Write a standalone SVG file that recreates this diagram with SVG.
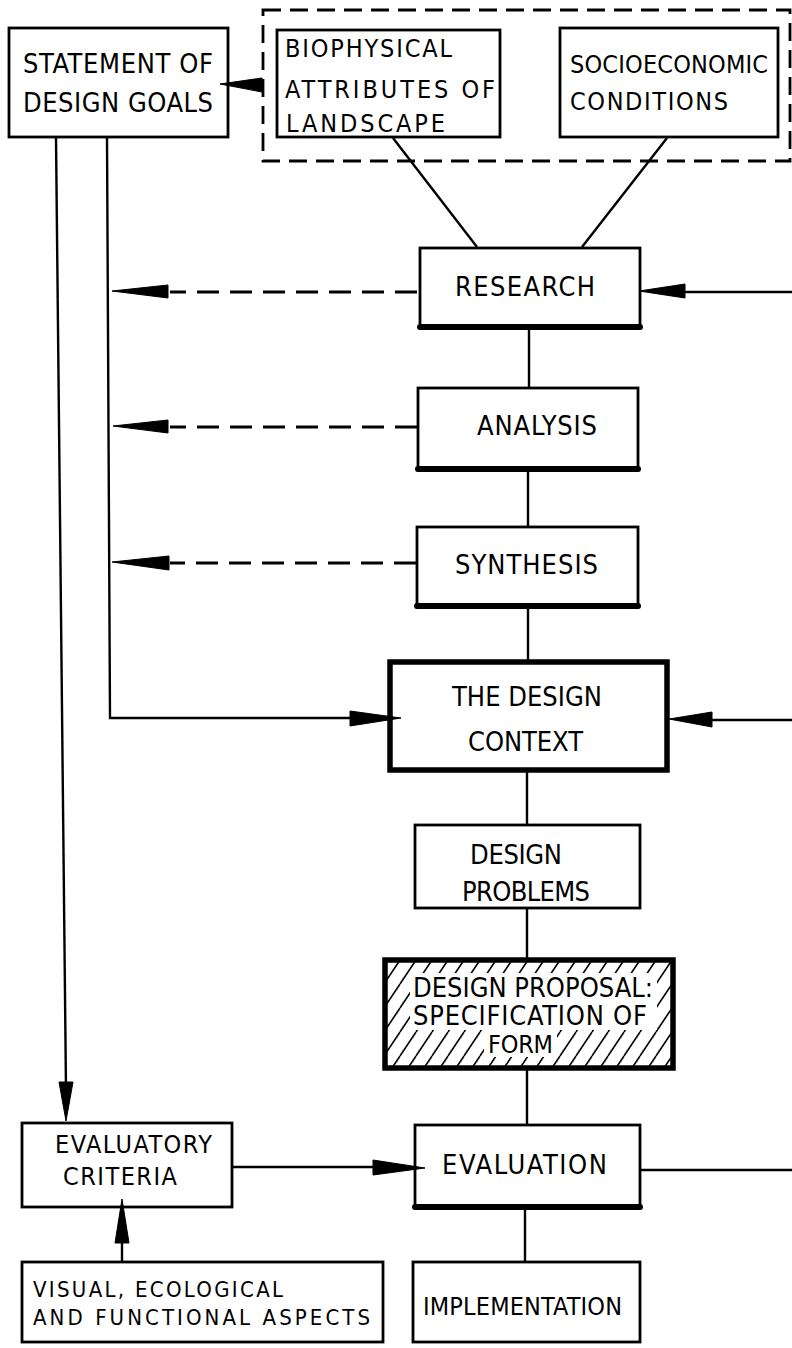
<svg xmlns="http://www.w3.org/2000/svg" width="792" height="1348" viewBox="0 0 792 1348">
<style>
  .box { fill: #fff; stroke: #000; stroke-width: 2.8; }
  .thick { fill: none; stroke: #000; stroke-width: 5.5; }
  .base { stroke: #000; stroke-width: 6; stroke-linecap: round; }
  .ln { fill: none; stroke: #000; stroke-width: 2.4; }
  .dash { fill: none; stroke: #000; stroke-width: 3; stroke-dasharray: 22 11; }
  .dbox { fill: none; stroke: #000; stroke-width: 2.8; stroke-dasharray: 18 9; }
  .ah { fill: #000; stroke: #000; stroke-width: 1; stroke-linejoin: round; }
  text { font-family: "DejaVu Sans", "Liberation Sans", sans-serif; font-stretch: condensed; font-size: 27px; fill: #000; }
  .md { font-size: 25px; }
  .sm { font-size: 22px; }
</style>
<defs>
  <pattern id="hatch" patternUnits="userSpaceOnUse" width="16" height="24">
    <path d="M0,24 L16,0 M-16,24 L0,0 M16,24 L32,0" stroke="#000" stroke-width="1.6"/>
  </pattern>
</defs>

<g id="external-factors">
  <rect class="dbox" x="263" y="10" width="527" height="151"/>
</g>

<g id="statement">
  <rect class="box" x="9" y="28" width="219" height="109"/>
  <text x="23" y="73" textLength="190" lengthAdjust="spacing">STATEMENT OF</text>
  <text x="23" y="112" textLength="190" lengthAdjust="spacing">DESIGN GOALS</text>
</g>

<g id="biophysical">
  <rect class="box" x="277" y="30" width="223" height="107"/>
  <text class="md" x="285" y="57" textLength="167" lengthAdjust="spacing">BIOPHYSICAL</text>
  <text class="md" x="285" y="98" textLength="210" lengthAdjust="spacing">ATTRIBUTES OF</text>
  <text class="md" x="286" y="132" textLength="159" lengthAdjust="spacing">LANDSCAPE</text>
</g>

<g id="socioeconomic">
  <rect class="box" x="560" y="28" width="218" height="109"/>
  <text class="md" x="570" y="73" textLength="198" lengthAdjust="spacing">SOCIOECONOMIC</text>
  <text class="md" x="570" y="110" textLength="158" lengthAdjust="spacing">CONDITIONS</text>
</g>

<g id="research">
  <rect class="box" x="420" y="248" width="220" height="80"/>
  <line class="base" x1="420" y1="327" x2="640" y2="327"/>
  <text x="455" y="296" textLength="140" lengthAdjust="spacing">RESEARCH</text>
</g>

<g id="analysis">
  <rect class="box" x="418" y="388" width="220" height="82"/>
  <line class="base" x1="418" y1="469" x2="638" y2="469"/>
  <text x="477" y="435" textLength="120" lengthAdjust="spacing">ANALYSIS</text>
</g>

<g id="synthesis">
  <rect class="box" x="417" y="527" width="221" height="80"/>
  <line class="base" x1="417" y1="606" x2="638" y2="606"/>
  <text x="455" y="574" textLength="143" lengthAdjust="spacing">SYNTHESIS</text>
</g>

<g id="design-context">
  <rect class="box" x="390" y="662" width="277" height="108"/>
  <rect class="thick" x="390" y="662" width="277" height="108"/>
  <text x="452" y="706" textLength="150" lengthAdjust="spacing">THE DESIGN</text>
  <text x="468" y="751" textLength="115" lengthAdjust="spacing">CONTEXT</text>
</g>

<g id="design-problems">
  <rect class="box" x="415" y="825" width="225" height="83"/>
  <text x="470" y="864" textLength="92" lengthAdjust="spacing">DESIGN</text>
  <text x="462" y="901" textLength="128" lengthAdjust="spacing">PROBLEMS</text>
</g>

<g id="design-proposal">
  <rect x="385" y="960" width="288" height="108" fill="url(#hatch)"/>
  <rect x="410" y="973" width="247" height="57" fill="#fff"/>
  <rect x="484" y="1030" width="73" height="27" fill="#fff"/>
  <rect class="thick" x="385" y="960" width="288" height="108"/>
  <text x="413" y="997" textLength="240" lengthAdjust="spacing">DESIGN PROPOSAL:</text>
  <text x="413" y="1025" textLength="234" lengthAdjust="spacing">SPECIFICATION OF</text>
  <text class="md" x="488" y="1053" textLength="65" lengthAdjust="spacing">FORM</text>
</g>

<g id="evaluatory-criteria">
  <rect class="box" x="22" y="1123" width="210" height="84"/>
  <text class="md" x="55" y="1153" textLength="157" lengthAdjust="spacing">EVALUATORY</text>
  <text class="md" x="63" y="1185" textLength="114" lengthAdjust="spacing">CRITERIA</text>
</g>

<g id="evaluation">
  <rect class="box" x="415" y="1125" width="225" height="83"/>
  <line class="base" x1="415" y1="1207" x2="640" y2="1207"/>
  <text x="442" y="1174" textLength="165" lengthAdjust="spacing">EVALUATION</text>
</g>

<g id="visual-aspects">
  <rect class="box" x="22" y="1262" width="361" height="80"/>
  <text class="sm" x="33" y="1297" textLength="250" lengthAdjust="spacing">VISUAL, ECOLOGICAL</text>
  <text class="sm" x="33" y="1325" textLength="337" lengthAdjust="spacing">AND FUNCTIONAL ASPECTS</text>
</g>

<g id="implementation">
  <rect class="box" x="413" y="1262" width="227" height="80"/>
  <text class="md" x="423" y="1315" textLength="199" lengthAdjust="spacing">IMPLEMENTATION</text>
</g>

<g id="connectors">
  <line class="ln" x1="263" y1="85" x2="255" y2="85"/>
  <polygon class="ah" points="220,84 262,78 262,92"/>
  <line class="ln" x1="393" y1="138" x2="477" y2="247"/>
  <line class="ln" x1="667" y1="138" x2="582" y2="247"/>
  <line class="ln" x1="685" y1="292" x2="792" y2="292"/>
  <polygon class="ah" points="639,291 685,284 685,298"/>
  <line class="ln" x1="712" y1="720" x2="792" y2="720"/>
  <polygon class="ah" points="669,719 712,712 712,727"/>
  <line class="ln" x1="641" y1="1170" x2="792" y2="1170"/>
  <line class="dash" x1="417" y1="292" x2="170" y2="292"/>
  <polygon class="ah" points="112,291 168,285 168,298"/>
  <line class="dash" x1="417" y1="427" x2="170" y2="427"/>
  <polygon class="ah" points="113,426 168,420 168,433"/>
  <line class="dash" x1="416" y1="563" x2="170" y2="563"/>
  <polygon class="ah" points="112,562 169,556 169,570"/>
  <line class="ln" x1="56" y1="138" x2="66" y2="1090"/>
  <polygon class="ah" points="66,1121 59,1082 73,1082"/>
  <polyline class="ln" points="107,138 110,718 355,718"/>
  <polygon class="ah" points="401,718 350,711 350,726"/>
  <line class="ln" x1="529" y1="330" x2="529" y2="387"/>
  <line class="ln" x1="528" y1="472" x2="528" y2="526"/>
  <line class="ln" x1="528" y1="609" x2="528" y2="660"/>
  <line class="ln" x1="527" y1="772" x2="527" y2="824"/>
  <line class="ln" x1="527" y1="909" x2="527" y2="958"/>
  <line class="ln" x1="527" y1="1070" x2="527" y2="1124"/>
  <line class="ln" x1="525" y1="1210" x2="525" y2="1261"/>
  <line class="ln" x1="233" y1="1167" x2="380" y2="1167"/>
  <polygon class="ah" points="425,1168 373,1160 373,1175"/>
  <line class="ln" x1="122" y1="1261" x2="122" y2="1240"/>
  <polygon class="ah" points="122,1199 115,1243 129,1243"/>
</g>
</svg>
